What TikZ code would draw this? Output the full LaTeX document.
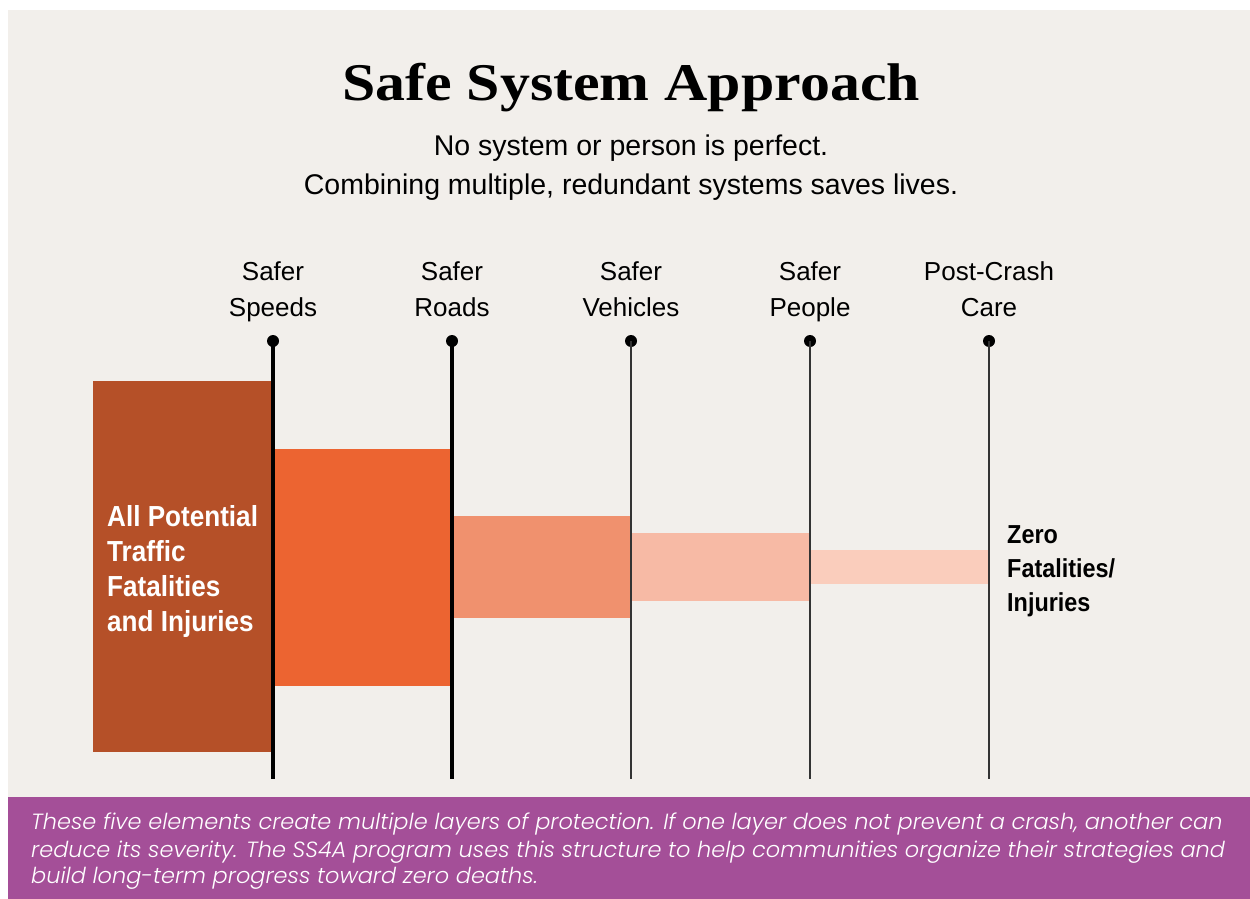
\documentclass[tikz,border=0pt]{standalone}
\usepackage{fontspec}
\setmainfont{Liberation Sans}
\newfontfamily\titlefont{Liberation Serif}[FakeStretch=1.13]
\newfontfamily\subfont{Liberation Sans}
\newfontfamily\condfont{Liberation Sans}[FakeStretch=0.9]
\newfontfamily\bannerfont{Poppins Light Italic}[FakeStretch=1.02]
\definecolor{bgc}{RGB}{242,239,235}
\definecolor{purp}{RGB}{164,79,152}
\definecolor{cA}{RGB}{181,80,40}
\definecolor{cB}{RGB}{236,100,49}
\definecolor{cC}{RGB}{240,145,110}
\definecolor{cD}{RGB}{247,186,165}
\definecolor{cE}{RGB}{250,205,188}
\tikzset{
  bar/.style={rectangle, inner sep=0pt, outer sep=0pt, draw=none, anchor=north west},
  collab/.style={anchor=base, inner sep=0pt, font=\fontsize{26}{30}\selectfont, text=black},
  pin/.style={circle, fill=black, inner sep=0pt, minimum size=12pt},
  thickpole/.style={line width=3.2pt, black},
  thinpole/.style={line width=1.4pt, black!80},
  whitelab/.style={anchor=base west, inner sep=0pt, text=white, font=\condfont\bfseries\fontsize{29}{34}\selectfont},
  blacklab/.style={anchor=base west, inner sep=0pt, text=black, font=\condfont\bfseries\fontsize{26}{32}\selectfont},
  bantext/.style={anchor=base west, inner sep=0pt, text=white, font=\bannerfont\fontsize{22}{27}\selectfont},
  subtext/.style={anchor=base, inner sep=0pt, font=\subfont\fontsize{28.5}{36}\selectfont},
}
\begin{document}
\begin{tikzpicture}[x=1pt,y=-1pt]
\useasboundingbox (0,0) rectangle (1250,899);
\fill[white] (0,0) rectangle (1250,899);
\fill[bgc] (8,10) rectangle (1250,797);
\fill[purp] (8,797) rectangle (1250,899);

% title
\node[anchor=base, inner sep=0pt, font=\titlefont\bfseries\fontsize{53}{60}\selectfont] (title) at (631,100) {Safe System Approach};
\node[subtext] (sub1) at (631,155) {No system or person is perfect.};
\node[subtext] (sub2) at (631,194) {Combining multiple, redundant systems saves lives.};

% bars
\node[bar, fill=cA, minimum width=180pt, minimum height=371pt] (barA) at (93,381) {};
\node[bar, fill=cB, minimum width=179pt, minimum height=237pt] (barB) at (273,449) {};
\node[bar, fill=cC, minimum width=179pt, minimum height=102pt] (barC) at (452,516) {};
\node[bar, fill=cD, minimum width=179pt, minimum height=68pt] (barD) at (631,533) {};
\node[bar, fill=cE, minimum width=179pt, minimum height=34pt] (barE) at (810,550) {};

% column labels
\node[collab] (l1a) at (273,280) {Safer};
\node[collab] (l1b) at (273,316) {Speeds};
\node[collab] (l2a) at (452,280) {Safer};
\node[collab] (l2b) at (452,316) {Roads};
\node[collab] (l3a) at (631,280) {Safer};
\node[collab] (l3b) at (631,316) {Vehicles};
\node[collab] (l4a) at (810,280) {Safer};
\node[collab] (l4b) at (810,316) {People};
\node[collab] (l5a) at (989,280) {Post-Crash};
\node[collab] (l5b) at (989,316) {Care};

% poles
\node[pin] (p1) at (273,341) {};
\node[pin] (p2) at (452,341) {};
\node[pin] (p3) at (631,341) {};
\node[pin] (p4) at (810,341) {};
\node[pin] (p5) at (989,341) {};
\coordinate (e1) at (273,779);
\coordinate (e2) at (452,779);
\coordinate (e3) at (631,779);
\coordinate (e4) at (810,779);
\coordinate (e5) at (989,779);
\draw[thickpole] (p1.center) -- (e1);
\draw[thickpole] (p2.center) -- (e2);
\draw[thinpole] (p3.center) -- (e3);
\draw[thinpole] (p4.center) -- (e4);
\draw[thinpole] (p5.center) -- (e5);

% bar labels
\node[whitelab] (w1) at (107,526) {All Potential};
\node[whitelab] (w2) at (107,561) {Traffic};
\node[whitelab] (w3) at (107,596) {Fatalities};
\node[whitelab] (w4) at (107,631) {and Injuries};
\node[blacklab] (z1) at (1007,543) {Zero};
\node[blacklab] (z2) at (1007,577) {Fatalities/};
\node[blacklab] (z3) at (1007,611) {Injuries};

% banner
\node[bantext] (t1) at (31,829) {These five elements create multiple layers of protection. If one layer does not prevent a crash, another can};
\node[bantext] (t2) at (31,857) {reduce its severity. The SS4A program uses this structure to help communities organize their strategies and};
\node[bantext] (t3) at (31,883) {build long-term progress toward zero deaths.};
\end{tikzpicture}
\end{document}
